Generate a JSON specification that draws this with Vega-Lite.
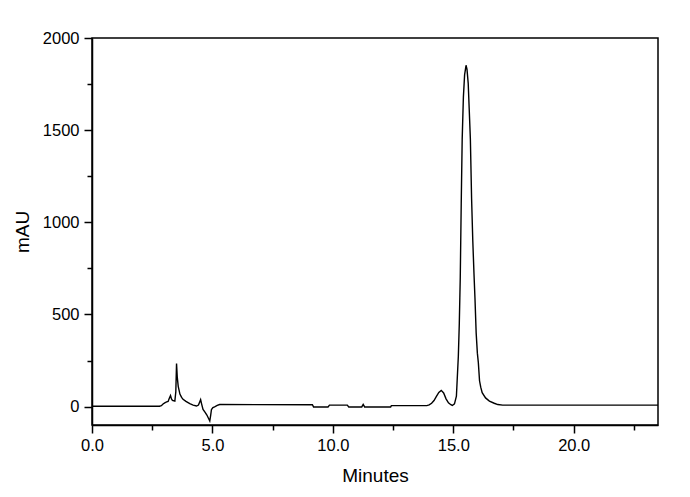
{
  "$schema": "https://vega.github.io/schema/vega-lite/v6.json",
  "autosize": "none",
  "width": 566,
  "height": 387,
  "padding": {"left": 92, "top": 38, "right": 32, "bottom": 72},
  "background": "white",
  "config": {
    "font": "Liberation Sans",
    "view": {"stroke": "black", "strokeWidth": 1.5}
  },
  "data": {
    "values": [
      {"t": 0, "v": 2}, {"t": 2.8, "v": 2}, {"t": 2.88, "v": 5}, {"t": 2.95, "v": 14},
      {"t": 3.02, "v": 20}, {"t": 3.1, "v": 25}, {"t": 3.16, "v": 28}, {"t": 3.21, "v": 45},
      {"t": 3.26, "v": 60}, {"t": 3.3, "v": 42}, {"t": 3.34, "v": 34}, {"t": 3.44, "v": 30},
      {"t": 3.48, "v": 80}, {"t": 3.51, "v": 233}, {"t": 3.54, "v": 160}, {"t": 3.58, "v": 110},
      {"t": 3.65, "v": 68}, {"t": 3.72, "v": 50}, {"t": 3.78, "v": 40}, {"t": 3.9, "v": 28},
      {"t": 4.06, "v": 16}, {"t": 4.2, "v": 8}, {"t": 4.34, "v": 3}, {"t": 4.42, "v": 8},
      {"t": 4.48, "v": 28}, {"t": 4.51, "v": 38}, {"t": 4.55, "v": 15}, {"t": 4.61, "v": -15},
      {"t": 4.69, "v": -30}, {"t": 4.77, "v": -46}, {"t": 4.83, "v": -62}, {"t": 4.89, "v": -78},
      {"t": 4.93, "v": -45}, {"t": 4.96, "v": -16}, {"t": 5.02, "v": -6}, {"t": 5.09, "v": -2},
      {"t": 5.2, "v": 6}, {"t": 5.3, "v": 11}, {"t": 9.15, "v": 10}, {"t": 9.2, "v": -2},
      {"t": 9.8, "v": -2}, {"t": 9.86, "v": 8}, {"t": 10.6, "v": 8}, {"t": 10.66, "v": -2},
      {"t": 11.2, "v": -2}, {"t": 11.26, "v": 12}, {"t": 11.32, "v": -2}, {"t": 12.4, "v": -2},
      {"t": 12.43, "v": 5}, {"t": 13.9, "v": 5}, {"t": 14.0, "v": 9}, {"t": 14.1, "v": 18},
      {"t": 14.2, "v": 33}, {"t": 14.3, "v": 55}, {"t": 14.4, "v": 77}, {"t": 14.5, "v": 88},
      {"t": 14.6, "v": 74}, {"t": 14.7, "v": 42}, {"t": 14.8, "v": 20}, {"t": 14.9, "v": 10},
      {"t": 14.96, "v": 6}, {"t": 15.05, "v": 15}, {"t": 15.13, "v": 56}, {"t": 15.21, "v": 273},
      {"t": 15.25, "v": 450}, {"t": 15.29, "v": 700}, {"t": 15.33, "v": 1100}, {"t": 15.37, "v": 1450},
      {"t": 15.42, "v": 1680}, {"t": 15.47, "v": 1800}, {"t": 15.53, "v": 1852}, {"t": 15.57, "v": 1830},
      {"t": 15.62, "v": 1754}, {"t": 15.66, "v": 1620}, {"t": 15.71, "v": 1450}, {"t": 15.76, "v": 1130},
      {"t": 15.81, "v": 900}, {"t": 15.86, "v": 720}, {"t": 15.9, "v": 590}, {"t": 15.95, "v": 400},
      {"t": 16.0, "v": 290}, {"t": 16.04, "v": 240}, {"t": 16.09, "v": 140}, {"t": 16.14, "v": 105},
      {"t": 16.2, "v": 75}, {"t": 16.34, "v": 47}, {"t": 16.5, "v": 30}, {"t": 16.7, "v": 18},
      {"t": 16.85, "v": 11}, {"t": 17.05, "v": 8}, {"t": 23.5, "v": 8}
    ]
  },
  "mark": {"type": "line", "color": "black", "strokeWidth": 1.4, "clip": true},
  "encoding": {
    "x": {
      "field": "t", "type": "quantitative",
      "scale": {"domain": [0, 23.5], "nice": false, "zero": false},
      "axis": {
        "title": "Minutes", "titleFontSize": 19, "titleFontWeight": "normal", "titleColor": "black", "titlePadding": 13,
        "values": [0, 2.5, 5, 7.5, 10, 12.5, 15, 17.5, 20, 22.5],
        "labelExpr": "datum.value % 5 === 0 ? format(datum.value, '.1f') : ''",
        "labelFontSize": 16.5, "labelColor": "black", "labelPadding": 4, "labelFlush": false, "labelOverlap": false,
        "tickColor": "black", "tickWidth": 1.5,
        "tickSize": {"condition": {"test": "datum.value % 5 === 0", "value": 8}, "value": 5},
        "domainColor": "black", "domainWidth": 1.5, "grid": false
      }
    },
    "y": {
      "field": "v", "type": "quantitative",
      "scale": {"domain": [-100, 2000], "nice": false, "zero": false},
      "axis": {
        "title": "mAU", "titleFontSize": 19, "titleFontWeight": "normal", "titleColor": "black", "titlePadding": 10,
        "values": [0, 250, 500, 750, 1000, 1250, 1500, 1750, 2000],
        "labelExpr": "datum.value % 500 === 0 ? format(datum.value, 'd') : ''",
        "labelFontSize": 16.5, "labelColor": "black", "labelPadding": 5, "labelFlush": false, "labelOverlap": false,
        "tickColor": "black", "tickWidth": 1.5,
        "tickSize": {"condition": {"test": "datum.value % 500 === 0", "value": 8}, "value": 5},
        "domainColor": "black", "domainWidth": 1.5, "grid": false
      }
    }
  }
}
